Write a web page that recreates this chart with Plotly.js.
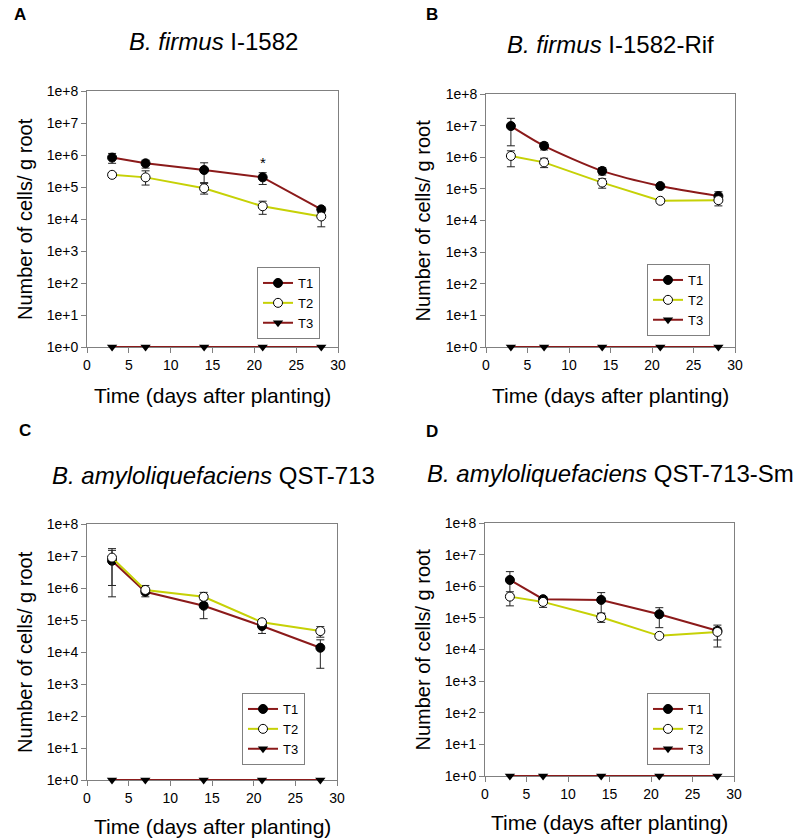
<!DOCTYPE html>
<html>
<head>
<meta charset="utf-8">
<script src="https://cdn.plot.ly/plotly-3.0.1.min.js"></script>
<style>html,body{margin:0;padding:0;background:#fff;}#chart{width:802px;height:839px;}</style>
</head>
<body>
<div id="chart"></div>
<script>
// ---- data ----
const days = [3, 7, 14, 21, 28];
const seriesNames = ['T1', 'T2', 'T3'];
const xTickVals = [0, 5, 10, 15, 20, 25, 30];
const yTickVals = [1, 10, 100, 1e3, 1e4, 1e5, 1e6, 1e7, 1e8];
const yTickText = ['1e+0', '1e+1', '1e+2', '1e+3', '1e+4', '1e+5', '1e+6', '1e+7', '1e+8'];
const panelLabels = ['A', 'B', 'C', 'D'];
const titleItalic = ['B. firmus', 'B. firmus', 'B. amyloliquefaciens', 'B. amyloliquefaciens'];
const titleRest = ['I-1582', 'I-1582-Rif', 'QST-713', 'QST-713-Sm'];
const xTitle = 'Time (days after planting)';
const yTitle = 'Number of cells/ g root';

// Panel A
const A_T1 = [8.3e5, 5.5e5, 3.4e5, 2.0e5, 2.0e4];
const A_T1_hi = [1.12e6, 6.9e5, 5.7e5, 2.8e5, 2.4e4];
const A_T1_lo = [5.5e5, 3.9e5, 1.3e5, 1.2e5, 1.6e4];
const A_T2 = [2.4e5, 2.0e5, 9.1e4, 2.5e4, 1.2e4];
const A_T2_hi = [2.8e5, 3.2e5, 1.37e5, 3.6e4, 1.4e4];
const A_T2_lo = [2.0e5, 1.15e5, 6.0e4, 1.4e4, 5.7e3];
const A_T3 = [1, 1, 1, 1, 1];
// Panel B
const B_T1 = [9.7e6, 2.3e6, 3.7e5, 1.23e5, 5.9e4];
const B_T1_hi = [1.7e7, 2.9e6, 4.7e5, 1.4e5, 8.1e4];
const B_T1_lo = [2.3e6, 1.7e6, 2.75e5, 1.08e5, 4.4e4];
const B_T2 = [1.1e6, 6.9e5, 1.58e5, 4.2e4, 4.4e4];
const B_T2_hi = [1.6e6, 9.3e5, 2.1e5, 4.9e4, 5.7e4];
const B_T2_lo = [5.0e5, 4.7e5, 1.05e5, 3.6e4, 2.9e4];
const B_T3 = [1, 1, 1, 1, 1];
// Panel C
const C_T1 = [7.1e6, 7.6e5, 2.8e5, 6.5e4, 1.36e4];
const C_T1_hi = [1.7e7, 8.5e5, 3.4e5, 7.5e4, 2.4e4];
const C_T1_lo = [5.3e5, 5.3e5, 1.1e5, 3.8e4, 3.1e3];
const C_T2 = [8.9e6, 8.7e5, 5.3e5, 8.5e4, 4.5e4];
const C_T2_hi = [1.5e7, 1.2e6, 7.3e5, 1.05e5, 6.2e4];
const C_T2_lo = [1.2e6, 7.0e5, 4.2e5, 7.0e4, 2.9e4];
const C_T3 = [1, 1, 1, 1, 1];
// Panel D
const D_T1 = [1.58e6, 3.9e5, 3.7e5, 1.3e5, 3.9e4];
const D_T1_hi = [2.9e6, 4.7e5, 6.3e5, 2.1e5, 5.9e4];
const D_T1_lo = [6.7e5, 3.3e5, 1.4e5, 4.9e4, 2.0e4];
const D_T2 = [4.7e5, 3.2e5, 1.05e5, 2.7e4, 3.6e4];
const D_T2_hi = [5.5e5, 4.0e5, 1.4e5, 2.9e4, 5.0e4];
const D_T2_lo = [2.4e5, 2.15e5, 7.2e4, 2.5e4, 1.2e4];
const D_T3 = [1, 1, 1, 1, 1];

const significanceMark = '*';
const sigDay = 21;
const sigValue = 5.9e5;

// ---- styling / layout ----
const W = 802, H = 839;
const FONT = 'Arial, "Liberation Sans", sans-serif';
const C_T1COL = '#8b1a1a';
const C_T2COL = '#c6d106';
const AXCOL = '#808080';
const px = v => v / W;
const py = v => 1 - v / H;

const boxes = [
  [87, 338, 91, 347],
  [486, 735, 94, 347],
  [87, 337, 524, 780],
  [485, 734, 523, 776]
];
const legendBoxes = [[257, 267], [647, 264], [242, 693], [647, 693]];
const titleCenters = [[213, 42], [610, 45], [213, 475], [610, 473]];
const labelPos = [[20, 15], [432, 15], [25, 430], [432, 431]];
const xTitleY = [395, 395, 826, 822];
const yTitleX = [25, 422, 25, 422];

const panels = [
  {t1: A_T1, t1hi: A_T1_hi, t1lo: A_T1_lo, t2: A_T2, t2hi: A_T2_hi, t2lo: A_T2_lo, t3: A_T3, shape1: 'linear', shape2: 'linear'},
  {t1: B_T1, t1hi: B_T1_hi, t1lo: B_T1_lo, t2: B_T2, t2hi: B_T2_hi, t2lo: B_T2_lo, t3: B_T3, shape1: 'spline', shape2: 'linear'},
  {t1: C_T1, t1hi: C_T1_hi, t1lo: C_T1_lo, t2: C_T2, t2hi: C_T2_hi, t2lo: C_T2_lo, t3: C_T3, shape1: 'linear', shape2: 'linear'},
  {t1: D_T1, t1hi: D_T1_hi, t1lo: D_T1_lo, t2: D_T2, t2hi: D_T2_hi, t2lo: D_T2_lo, t3: D_T3, shape1: 'linear', shape2: 'linear'}
];

const traces = [];
const layout = {
  width: W, height: H,
  margin: {l: 0, r: 0, t: 0, b: 0},
  paper_bgcolor: '#fff', plot_bgcolor: '#fff',
  font: {family: FONT, color: '#000'},
  showlegend: true,
  annotations: []
};

function err(vals, hi, lo) {
  return {
    type: 'data', symmetric: false,
    array: vals.map((v, i) => hi[i] - v),
    arrayminus: vals.map((v, i) => v - lo[i]),
    color: '#222', thickness: 1, width: 4
  };
}

panels.forEach((p, k) => {
  const n = k === 0 ? '' : String(k + 1);
  const xa = 'x' + n, ya = 'y' + n;
  const lg = 'legend' + n;
  const b = boxes[k];
  layout['xaxis' + n] = {
    domain: [px(b[0]), px(b[1])], anchor: ya, layer: 'below traces',
    range: [0, 30], tickvals: xTickVals, ticks: 'outside', ticklen: 5,
    tickcolor: AXCOL, showline: true, mirror: true, linecolor: AXCOL, linewidth: 1,
    showgrid: false, zeroline: false, tickfont: {size: 14, family: FONT}
  };
  layout['yaxis' + n] = {
    domain: [py(b[3]), py(b[2])], anchor: xa, type: 'log', layer: 'below traces',
    range: [0, 8], tickvals: yTickVals, ticktext: yTickText, ticks: 'outside', ticklen: 5,
    tickcolor: AXCOL, showline: true, mirror: true, linecolor: AXCOL, linewidth: 1,
    showgrid: false, zeroline: false, tickfont: {size: 14, family: FONT}
  };
  layout[lg] = {
    x: px(legendBoxes[k][0]), y: py(legendBoxes[k][1]), xanchor: 'left', yanchor: 'top',
    bgcolor: '#fff', bordercolor: AXCOL, borderwidth: 1,
    font: {size: 13, family: FONT}, tracegroupgap: 0, itemwidth: 30
  };
  traces.push({
    x: days, y: p.t1, xaxis: xa, yaxis: ya, legend: lg, name: seriesNames[0],
    mode: 'lines+markers', line: {color: C_T1COL, width: 2, shape: p.shape1, smoothing: 0.7},
    marker: {symbol: 'circle', size: 9, color: '#000', line: {color: '#000', width: 1}},
    error_y: err(p.t1, p.t1hi, p.t1lo), cliponaxis: false
  });
  traces.push({
    x: days, y: p.t2, xaxis: xa, yaxis: ya, legend: lg, name: seriesNames[1],
    mode: 'lines+markers', line: {color: C_T2COL, width: 2, shape: p.shape2},
    marker: {symbol: 'circle', size: 9, color: '#fff', line: {color: '#000', width: 1}},
    error_y: err(p.t2, p.t2hi, p.t2lo), cliponaxis: false
  });
  traces.push({
    x: days, y: p.t3, xaxis: xa, yaxis: ya, legend: lg, name: seriesNames[2],
    mode: 'lines+markers', line: {color: C_T1COL, width: 2},
    marker: {symbol: 'triangle-down', size: 9, color: '#000'},
    cliponaxis: false
  });
  layout.annotations.push({
    xref: 'paper', yref: 'paper', x: px(titleCenters[k][0]), y: py(titleCenters[k][1]),
    xanchor: 'center', yanchor: 'middle', showarrow: false,
    text: '<i>' + titleItalic[k] + '</i> ' + titleRest[k], font: {size: 24, family: FONT}
  });
  layout.annotations.push({
    xref: 'paper', yref: 'paper', x: px(labelPos[k][0]), y: py(labelPos[k][1]),
    xanchor: 'center', yanchor: 'middle', showarrow: false,
    text: '<b>' + panelLabels[k] + '</b>', font: {size: 17, family: FONT}
  });
  layout.annotations.push({
    xref: 'paper', yref: 'paper', x: px((b[0] + b[1]) / 2), y: py(xTitleY[k]),
    xanchor: 'center', yanchor: 'middle', showarrow: false,
    text: xTitle, font: {size: 21, family: FONT}
  });
  layout.annotations.push({
    xref: 'paper', yref: 'paper', x: px(yTitleX[k]), y: py((b[2] + b[3]) / 2),
    xanchor: 'center', yanchor: 'middle', showarrow: false, textangle: -90,
    text: yTitle, font: {size: 20, family: FONT}
  });
});

layout.annotations.push({
  xref: 'x', yref: 'y', x: sigDay, y: Math.log10(sigValue), showarrow: false,
  text: significanceMark, font: {size: 15, family: FONT}
});

Plotly.newPlot('chart', traces, layout, {staticPlot: true, displayModeBar: false});
</script>
</body>
</html>
